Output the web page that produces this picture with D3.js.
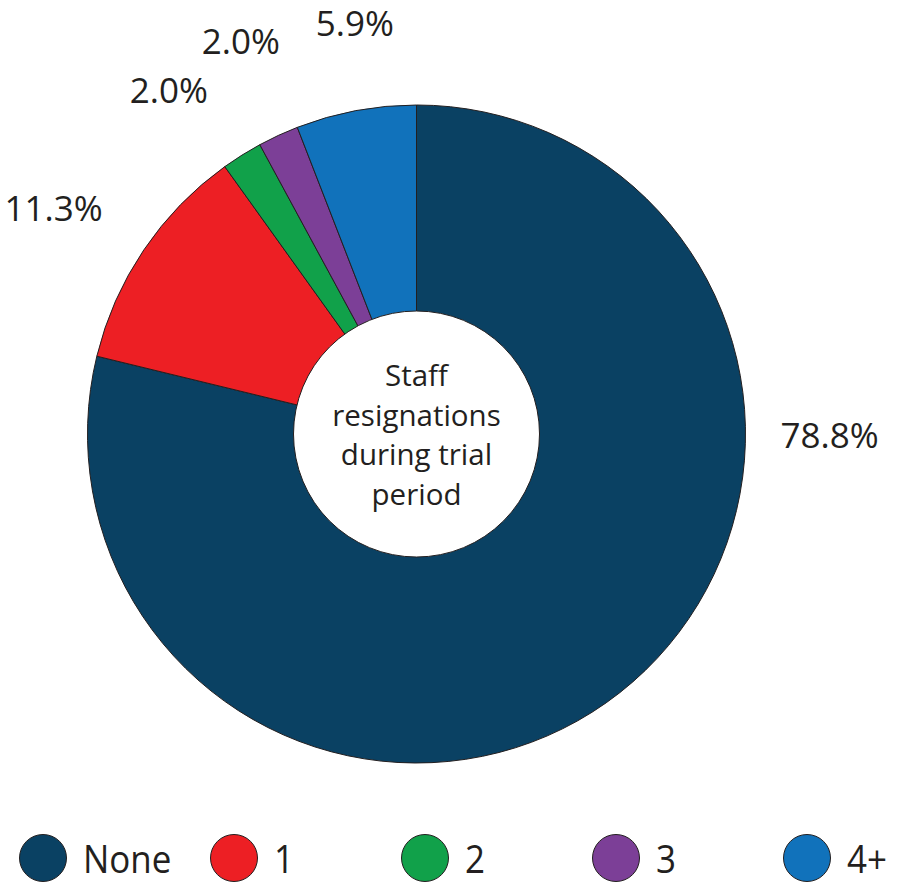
<!DOCTYPE html>
<html>
<head>
<meta charset="utf-8">
<script src="https://cdn.jsdelivr.net/npm/d3@7"></script>
<style>
  html, body { margin: 0; padding: 0; background: #ffffff; }
  svg { display: block; }
  text { font-family: "Open Sans", "Noto Sans", sans-serif; fill: #231f20; }
</style>
</head>
<body>
<svg id="chart" width="904" height="884"></svg>
<script>
// Staff resignations during the trial period (share of sites, %)
const categories = ["None", "1", "2", "3", "4+"];
const shares = [78.8, 11.3, 2.0, 2.0, 5.9];
const colors = ["#0a4163", "#ed1f24", "#11a14a", "#7c3f97", "#1172bb"];
const centerTitle = ["Staff", "resignations", "during trial", "period"];

const svg = d3.select("#chart");
const cx = 416.5, cy = 434;
const outerR = 329, innerR = 123;

const data = categories.map((c, i) => ({ category: c, value: shares[i], color: colors[i] }));

// Slices run clockwise from 12 o'clock in category order
const pie = d3.pie().sort(null).value(d => d.value)
  .startAngle(0).endAngle(2 * Math.PI);
const arcs = pie(data);

const arc = d3.arc().innerRadius(0).outerRadius(outerR);

const g = svg.append("g").attr("transform", `translate(${cx},${cy})`);

g.selectAll("path.slice")
  .data(arcs)
  .join("path")
  .attr("class", "slice")
  .attr("d", arc)
  .attr("fill", d => d.data.color)
  .attr("stroke", "#231f20")
  .attr("stroke-width", 1);

// White hub holding the title
g.append("circle")
  .attr("r", innerR)
  .attr("fill", "#ffffff")
  .attr("stroke", "#231f20")
  .attr("stroke-width", 1);

const lineH = 39.5;
g.append("text")
  .attr("text-anchor", "middle")
  .attr("font-size", 29.5)
  .selectAll("tspan")
  .data(centerTitle)
  .join("tspan")
  .attr("x", 0)
  .attr("y", (d, i) => -48 + i * lineH)
  .text(d => d);

// Percentage labels outside the ring. The large slice is labelled at 3 o'clock;
// the narrow slices are fanned out a little (degrees) so their labels don't collide.
const labelShiftDeg = { "1": -2, "2": -3.7, "3": 0.8, "4+": 2.1 };
const labelR = { "None": 413, "1": 428, "2": 424, "3": 431, "4+": 416 };
const fmt = d3.format(".1f");

function labelAngle(d) {
  const k = d.data.category;
  if (k === "None") return Math.PI / 2;
  return (d.startAngle + d.endAngle) / 2 + labelShiftDeg[k] * Math.PI / 180;
}

g.selectAll("text.pct")
  .data(arcs)
  .join("text")
  .attr("class", "pct")
  .attr("text-anchor", "middle")
  .attr("dominant-baseline", "central")
  .attr("font-size", 35)
  .attr("x", d => Math.sin(labelAngle(d)) * labelR[d.data.category])
  .attr("y", d => -Math.cos(labelAngle(d)) * labelR[d.data.category])
  .text(d => fmt(d.data.value) + "%");

// Legend along the bottom
const legendX = d3.scalePoint().domain(categories).range([43, 807]);
const legendY = 858;

const legend = svg.append("g").attr("class", "legend");
const items = legend.selectAll("g.item")
  .data(data)
  .join("g")
  .attr("class", "item")
  .attr("transform", d => `translate(${legendX(d.category)},${legendY})`);

items.append("circle")
  .attr("r", 23.5)
  .attr("fill", d => d.color)
  .attr("stroke", "#231f20")
  .attr("stroke-width", 1);

items.append("text")
  .attr("transform", "translate(40,15) scale(0.92,1)")
  .attr("font-size", 38)
  .text(d => d.category);
</script>
</body>
</html>
